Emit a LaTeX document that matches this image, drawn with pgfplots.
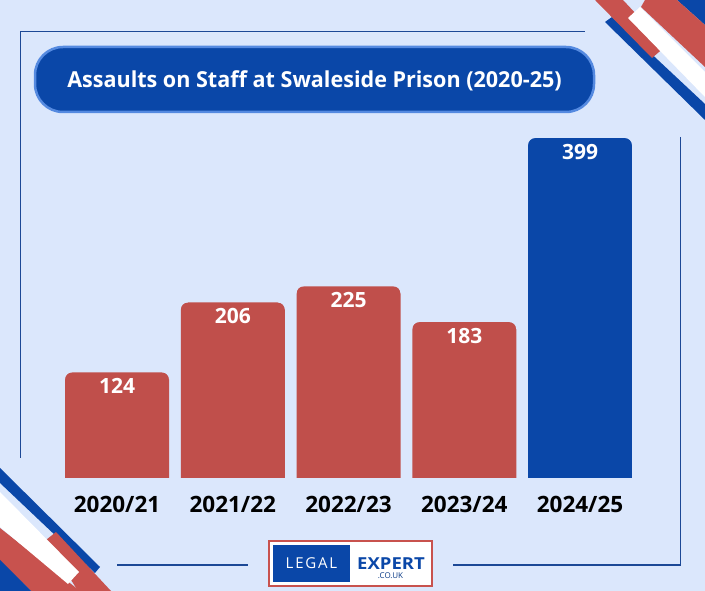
\documentclass[border=0pt]{standalone}
\usepackage{pgfplots}
\pgfplotsset{compat=1.18}
\usepackage{fontspec}
\setmainfont{Open Sans}
\definecolor{bg}{RGB}{219,231,252}
\definecolor{barred}{RGB}{192,79,75}
\definecolor{barblue}{RGB}{10,71,168}
\definecolor{framec}{RGB}{28,72,150}
\definecolor{titleborder}{RGB}{85,138,224}
\definecolor{stripred}{RGB}{200,82,78}
\pgfdeclareplotmark{roundtop}{%
  \pgfsetfillcolor{bg}%
  \pgfpathmoveto{\pgfqpoint{-52.8pt}{0.4pt}}%
  \pgfpathlineto{\pgfqpoint{-45pt}{0.4pt}}%
  \pgfpathlineto{\pgfqpoint{-45pt}{0pt}}%
  \pgfpatharc{90}{180}{7pt}%
  \pgfpathlineto{\pgfqpoint{-52.8pt}{-7pt}}%
  \pgfpathclose
  \pgfpathmoveto{\pgfqpoint{52.8pt}{0.4pt}}%
  \pgfpathlineto{\pgfqpoint{52.8pt}{-7pt}}%
  \pgfpathlineto{\pgfqpoint{52pt}{-7pt}}%
  \pgfpatharc{0}{90}{7pt}%
  \pgfpathlineto{\pgfqpoint{45pt}{0.4pt}}%
  \pgfpathclose
  \pgfusepathqfill}
\begin{document}
\begin{tikzpicture}[x=1pt,y=1pt]
\useasboundingbox (0,0) rectangle (705,591);
\clip (0,0) rectangle (705,591);
\fill[bg] (0,0) rectangle (705,591);
% top-right decoration (y = 591 - pixel y)
\fill[barblue] (677,591) -- (705,591) -- (705,566) -- cycle;
\fill[stripred] (645,591) -- (677,591) -- (705,566) -- (705,524) -- (641,584) -- cycle;
\fill[barblue] (605,569) -- (612,574) -- (705,487) -- (705,471) -- cycle;
\fill[stripred] (595,591) -- (623,591) -- (666,545) -- (652,533) -- cycle;
\fill[white] (628,573) -- (640,584) -- (705,519) -- (705,494) -- cycle;
% bottom-left decoration
\fill[barblue] (0,123) -- (0,108) -- (95,18) -- (100,24) -- cycle;
\fill[stripred] (0,63) -- (0,30) -- (31,0) -- (80,0) -- cycle;
\fill[stripred] (46,51) -- (56,59) -- (111,0) -- (78,0) -- cycle;
\fill[white] (0,99) -- (0,64) -- (68,7) -- (79,19) -- cycle;
\fill[barblue] (0,31) -- (0,0) -- (31,0) -- cycle;
% frame lines
\draw[framec, line width=1.4pt] (20.5,133) -- (20.5,559.5) -- (585,559.5);
\draw[framec, line width=1.4pt] (680.5,454) -- (680.5,26) -- (453,26);
\draw[framec, line width=1.4pt] (117,26) -- (248,26);
% title
\draw[fill=barblue, draw=titleborder, line width=2.5pt, rounded corners=28pt] (35,544) rectangle (594,479);
\node[anchor=base, text=white, inner sep=0pt] at (314.5,503.7)
  {\scalebox{0.98}[1]{\fontsize{22}{26}\selectfont\bfseries Assaults on Staff at Swaleside Prison (2020-25)}};
% logo
\draw[fill=white, draw=stripred, line width=1.2pt] (269,5) rectangle (432,50);
\fill[barblue] (273,9) rectangle (350,46);
\node[text=white, inner sep=0pt] at (311.5,27.5)
  {\fontsize{15}{18}\selectfont\addfontfeature{LetterSpace=12}LEGAL};
\node[text=barblue, inner sep=0pt] at (391,27.5)
  {\scalebox{1.12}[1]{\fontsize{16.5}{19}\selectfont\bfseries EXPERT}};
\node[text=barblue!80!black, inner sep=0pt] at (390.5,15.5)
  {\fontsize{8}{10}\selectfont .CO.UK};
\begin{axis}[
  at={(59.125pt,113pt)}, anchor=south west,
  x=115.75pt, y=0.852pt,
  xmin=-0.5, xmax=4.5, ymin=0, ymax=420,
  enlargelimits=false, clip=false,
  axis line style={draw=none},
  major tick length=0pt,
  ytick=\empty,
  xtick={0,1,2,3,4},
  xticklabels={2020/21,2021/22,2022/23,2023/24,2024/25},
  xticklabel style={font=\fontsize{22.5}{26}\selectfont\bfseries, text=black, anchor=base, yshift=-35pt},
  /pgf/number format/assume math mode=true,
  ybar, bar width=104pt, bar shift=0pt,
  nodes near coords,
  nodes near coords align={below},
  every node near coord/.append style={font=\fontsize{21}{25}\selectfont\bfseries, text=white, yshift=-2.7pt},
]
\addplot[fill=barred, draw=none, mark=roundtop] coordinates {(0,124) (1,206) (2,225) (3,183)};
\addplot[fill=barblue, draw=none, mark=roundtop] coordinates {(4,399)};
\end{axis}
\end{tikzpicture}
\end{document}
